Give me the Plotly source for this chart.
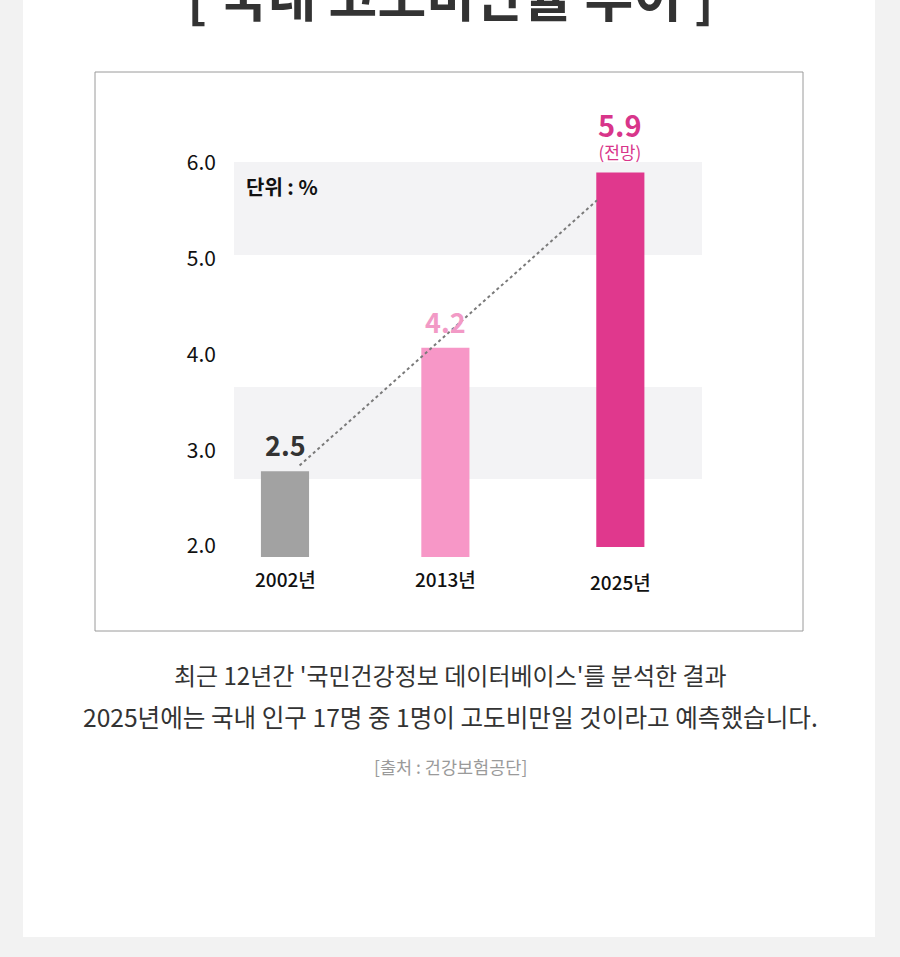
import plotly.graph_objects as go

# ---- data ----
years = [2002, 2013, 2025]
year_labels = ["2002년", "2013년", "2025년"]
rate_labels = ["2.5", "4.2", "5.9"]          # values printed above the bars (%)
bar_top = [2.78, 4.07, 5.90]                  # bar tops as drawn on the axis
bar_base = [1.885, 1.885, 1.99]               # bar bottoms as drawn
bar_colors = ["#a2a2a2", "#f797c7", "#e0388d"]
label_colors = ["#333333", "#f29ac6", "#d8358a"]
y_ticks = [2.0, 3.0, 4.0, 5.0, 6.0]
bands = [(5.04, 6.01), (2.70, 3.66)]
trend_x = [2003.0, 2023.4]
trend_y = [2.84, 5.61]

FONT = "Noto Sans CJK KR"

# plot area geometry (pixels)
L, R_EDGE, T, B_EDGE = 234, 702, 100, 600
W, H = 900, 957
PX_YEAR = 14.58
x0 = 2002 - (285 - L) / PX_YEAR
x1 = x0 + (R_EDGE - L) / PX_YEAR
PX_UNIT = 95.75
y1 = 6.0 + (163 - T) / PX_UNIT
y0 = 2.0 - (B_EDGE - 546) / PX_UNIT


def px(xp):
    return (xp - L) / (R_EDGE - L)


def py(yp):
    return (B_EDGE - yp) / (B_EDGE - T)


fig = go.Figure()

fig.add_trace(go.Bar(
    x=years,
    y=[t - b for t, b in zip(bar_top, bar_base)],
    base=bar_base,
    width=3.3,
    marker=dict(color=bar_colors, line=dict(width=0)),
    hoverinfo="skip",
    showlegend=False,
))

fig.add_trace(go.Scatter(
    x=trend_x, y=trend_y, mode="lines",
    line=dict(color="#7a7a7a", width=2, dash="dot"),
    hoverinfo="skip", showlegend=False,
))

shapes = []
# page card
shapes.append(dict(type="rect", xref="paper", yref="paper",
                   x0=px(23), x1=px(875), y0=py(937), y1=py(-20),
                   fillcolor="white", line=dict(width=0), layer="below"))
# chart frame
shapes.append(dict(type="rect", xref="paper", yref="paper",
                   x0=px(95), x1=px(803), y0=py(631), y1=py(72),
                   fillcolor="rgba(0,0,0,0)", line=dict(color="#9a9a9a", width=1), layer="below"))
for lo, hi in bands:
    shapes.append(dict(type="rect", xref="x", yref="y", x0=x0, x1=x1, y0=lo, y1=hi,
                       fillcolor="#f3f3f5", line=dict(width=0), layer="below"))

annotations = []
# value labels
shifts = [27, 26]
for yr, top, txt, col, s in zip(years[:2], bar_top[:2], rate_labels[:2], label_colors[:2], shifts):
    annotations.append(dict(x=yr, y=top, xref="x", yref="y", text=f"<b>{txt}</b>",
                            showarrow=False, yanchor="middle", yshift=s,
                            font=dict(family=FONT, size=27, color=col)))
# forecast label: value + "(전망)" in one text block
annotations.append(dict(x=years[2], y=bar_top[2], xref="x", yref="y",
                        text=f"<span style='font-size:29px'><b>{rate_labels[2]}</b></span><br>(전망)",
                        showarrow=False, yanchor="bottom", yshift=7,
                        font=dict(family=FONT, size=17, color=label_colors[2])))
# year labels
lab_shift = [-21, -21, -35]
for yr, b, txt, s in zip(years, bar_base, year_labels, lab_shift):
    annotations.append(dict(x=yr, y=b, xref="x", yref="y", text=txt, showarrow=False,
                            yanchor="middle", yshift=s,
                            font=dict(family=FONT, size=19, color="#111111", weight=500)))
# unit
annotations.append(dict(x=px(244), y=py(186), xref="paper", yref="paper", text="<b>단위 : %</b>",
                        showarrow=False, xanchor="left", yanchor="middle",
                        font=dict(family=FONT, size=20, color="#111111")))
# title (cut off at top)
annotations.append(dict(x=px(450), y=py(-6), xref="paper", yref="paper",
                        text="<b>[ 국내 고도비만율 추이 ]</b>",
                        showarrow=False, xanchor="center", yanchor="middle",
                        font=dict(family=FONT, size=53, color="#333333")))
# captions
annotations.append(dict(x=px(450), y=py(674), xref="paper", yref="paper",
                        text="최근 12년간 '국민건강정보 데이터베이스'를 분석한 결과",
                        showarrow=False, xanchor="center", yanchor="middle",
                        font=dict(family=FONT, size=24, color="#333333")))
annotations.append(dict(x=px(450), y=py(716), xref="paper", yref="paper",
                        text="2025년에는 국내 인구 17명 중 1명이 고도비만일 것이라고 예측했습니다.",
                        showarrow=False, xanchor="center", yanchor="middle",
                        font=dict(family=FONT, size=24.6, color="#333333")))
annotations.append(dict(x=px(450), y=py(766), xref="paper", yref="paper",
                        text="[출처 : 건강보험공단]",
                        showarrow=False, xanchor="center", yanchor="middle",
                        font=dict(family=FONT, size=17.5, color="#9a9a9a")))

fig.update_layout(
    width=W, height=H,
    margin=dict(l=L, r=W - R_EDGE, t=T, b=H - B_EDGE, pad=0),
    paper_bgcolor="#f2f2f2",
    plot_bgcolor="rgba(0,0,0,0)",
    shapes=shapes,
    annotations=annotations,
    xaxis=dict(range=[x0, x1], showgrid=False, zeroline=False, showticklabels=False,
               showline=False, ticks="", fixedrange=True),
    yaxis=dict(range=[y0, y1], tickvals=y_ticks, ticktext=[f"{v:.1f}" for v in y_ticks],
               showgrid=False, zeroline=False, showline=False, ticks="",
               ticklabelstandoff=17,
               tickfont=dict(family=FONT, size=21, color="#111111"), fixedrange=True),
    font=dict(family=FONT),
)

fig.write_html("out.html")
